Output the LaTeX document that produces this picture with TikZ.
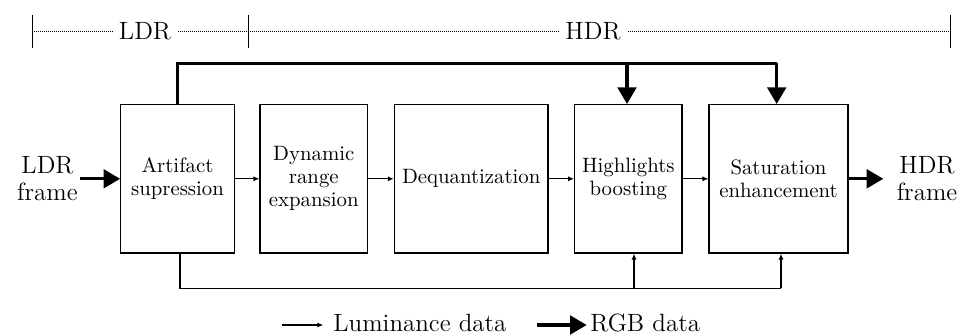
\documentclass[tikz,border=0pt]{standalone}
\usetikzlibrary{arrows.meta, calc}

\begin{document}
\begin{tikzpicture}[x=0.5pt, y=-0.5pt]

\tikzstyle{block_style} = [draw, line width=0.6pt, inner sep=1pt, align=center, font=\fontsize{10.4}{11.5}\selectfont, minimum height=74.2pt]
\tikzstyle{label_style} = [align=center, inner sep=1pt, font=\fontsize{12.5}{13.4}\selectfont]
\tikzstyle{thin_style} = [line width=0.6pt, -{Latex[length=3pt, width=2.6pt]}]
\tikzstyle{thick_style} = [line width=1.6pt, -{Triangle[length=8.3pt, width=9.3pt]}]
\tikzstyle{dot_style} = [line width=0.55pt, dash pattern=on 0.5pt off 0.5pt]

\useasboundingbox (0,0) rectangle (962,336);

% range bar
\coordinate (t0) at (32.3,31.7);
\coordinate (t1) at (248.3,31.7);
\coordinate (t2) at (950.7,31.7);
\draw[dot_style] (t0) -- (t2);
\foreach \t in {t0,t1,t2}
  \draw[line width=0.6pt] ($(\t)+(0,-16.7)$) -- ($(\t)+(0,16.7)$);
\node[label_style, fill=white, inner xsep=3pt] (ldr) at (145,31.7) {LDR};
\node[label_style, fill=white, inner xsep=3pt] (hdr) at (593,31.7) {HDR};

% blocks
\node[block_style, minimum width=56.8pt] (b1) at (177.5,178.8) {Artifact\\supression};
\node[block_style, minimum width=53.8pt] (b2) at (313.8,178.8) {Dynamic\\range\\expansion};
\node[block_style, minimum width=76.8pt] (b3) at (471.2,178.8) {Dequantization};
\node[block_style, minimum width=53.6pt] (b4) at (628.3,178.8) {Highlights\\boosting};
\node[block_style, minimum width=69.5pt] (b5) at (778.5,178.8) {Saturation\\enhancement};

\node[label_style] (in) at (47.5,178.8) {LDR\\frame};
\node[label_style] (out) at (927,178.8) {HDR\\frame};

% luminance path
\draw[thin_style] (b1) -- (b2);
\draw[thin_style] (b2) -- (b3);
\draw[thin_style] (b3) -- (b4);
\draw[thin_style] (b4) -- (b5);

\coordinate (low1) at (634,288.3);
\coordinate (low2) at (781,288.3);
\draw[line width=0.6pt] ([xshift=1.25pt]b1.south) |- (low2);
\draw[thin_style] (low1) -- (low1 |- b4.south);
\draw[thin_style] (low2) -- (low2 |- b5.south);

% rgb path
\draw[thick_style] (in.east) -- (b1.west);
\draw[thick_style] (b5.east) -- (883.3,178.8);
\coordinate (top1) at (627,63.5);
\coordinate (top2) at (776.7,63.5);
\draw[line width=1.6pt] (b1.north) |- (top2);
\draw[thick_style] (top1) -- (top1 |- b4.north);
\draw[thick_style] (top2) -- (top2 |- b5.north);

% legend
\coordinate (la) at (281.7,325);
\coordinate (lb) at (323.3,325);
\draw[thin_style] (la) -- (lb);
\node[label_style, anchor=west] (lum) at (331,323) {Luminance data};
\coordinate (lc) at (536.7,325);
\coordinate (ld) at (586.7,325);
\draw[thick_style] (lc) -- (ld);
\node[label_style, anchor=west] (rgb) at (588,323) {RGB data};

\end{tikzpicture}
\end{document}
